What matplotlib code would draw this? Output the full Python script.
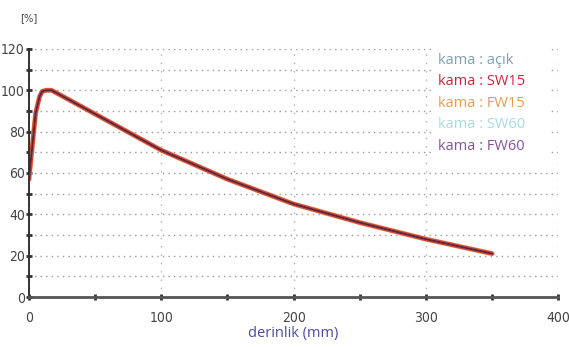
import numpy as np
import matplotlib.pyplot as plt

# depth dose curves, all five wedge settings overlap almost exactly
depth = [0, 2, 5, 8, 10, 13, 17, 30, 50, 100, 150, 200, 250, 300, 350]
pdd_acik = [57, 70, 89, 97, 99.5, 100, 100, 95.5, 88.5, 71, 57, 45, 36, 28, 21]
pdd_sw15 = [57, 70, 89, 97, 99.5, 100, 100, 95.5, 88.5, 71, 57, 45, 36, 28, 21]
pdd_fw15 = [57, 70, 89, 97, 99.5, 100, 100, 95.5, 88.5, 71, 57, 45, 36, 28, 21]
pdd_sw60 = [57, 70, 89, 97, 99.5, 100, 100, 95.5, 88.5, 71, 57, 45, 36, 28, 21]
pdd_fw60 = [57, 70, 89, 97, 99.5, 100, 100, 95.5, 88.5, 71, 57, 45, 36, 28, 21]

labels = ['kama : açık', 'kama : SW15', 'kama : FW15', 'kama : SW60', 'kama : FW60']
colors = ['#7d9fb5', '#c8243c', '#e89a4c', '#a9dbe6', '#86529a']

fig = plt.figure(figsize=(5.69, 3.47), dpi=100)
ax = fig.add_axes([0.051, 0.144, 0.930, 0.715])

# draw from widest to thinnest so edges show through
series = [pdd_fw15, pdd_sw15, pdd_acik, pdd_sw60, pdd_fw60]
cols = ['#f0905a', '#d83a2e', colors[0], colors[3], '#7a2a3a']
widths = [3.6, 2.8, 1.4, 1.2, 1.2]
for y, c, w in zip(series, cols, widths):
    ax.plot(depth, y, color=c, lw=w, solid_joinstyle='round', solid_capstyle='round')
ax.plot(depth, pdd_fw60, color='#6a1e2e', lw=1.3, alpha=0.9)

ax.set_xlim(0, 400)
ax.set_ylim(0, 120)
ax.set_xticks(np.arange(0, 401, 100))
ax.set_xticks(np.arange(0, 401, 50), minor=True)
ax.set_yticks(np.arange(0, 121, 20))
ax.set_yticks(np.arange(0, 121, 10), minor=True)

ax.grid(True, which='both', axis='y', linestyle=(0, (1, 3)), color='#9a9a9a', lw=1.0)
ax.grid(True, which='major', axis='x', linestyle=(0, (1, 5)), color='#b0b0b0', lw=1.0)
ax.set_axisbelow(True)

for s in ['top', 'right']:
    ax.spines[s].set_visible(False)
ax.spines['left'].set_color('#333333')
ax.spines['left'].set_linewidth(1.4)
ax.spines['bottom'].set_color('#555555')
ax.spines['bottom'].set_linewidth(2.0)

ax.tick_params(which='both', direction='inout', length=4, width=2, color='#333333')
ax.tick_params(axis='x', labelsize=10, labelcolor='#444444', pad=8)
ax.tick_params(axis='y', labelsize=10, labelcolor='#444444', pad=1)
for lab in ax.get_xticklabels() + ax.get_yticklabels():
    lab.set_family('DejaVu Sans')
    lab.set_stretch('condensed')

ax.set_xlabel('derinlik (mm)', fontsize=10.5, color='#4b4ba0', family='Open Sans', labelpad=1)
fig.text(0.035, 0.94, '[%]', fontsize=8, color='#444444', stretch='condensed')

# legend as coloured text on a white patch
ax.add_patch(plt.Rectangle((0.76, 0.54), 0.22, 0.46, transform=ax.transAxes,
                           facecolor='white', edgecolor='none', zorder=3))
for i, (lab, c) in enumerate(zip(labels, colors)):
    ax.text(0.772, 0.955 - i * 0.087, lab, transform=ax.transAxes, color=c,
            fontsize=10.5, family='Open Sans', va='center', zorder=4)

fig.savefig('out.png', dpi=100)
